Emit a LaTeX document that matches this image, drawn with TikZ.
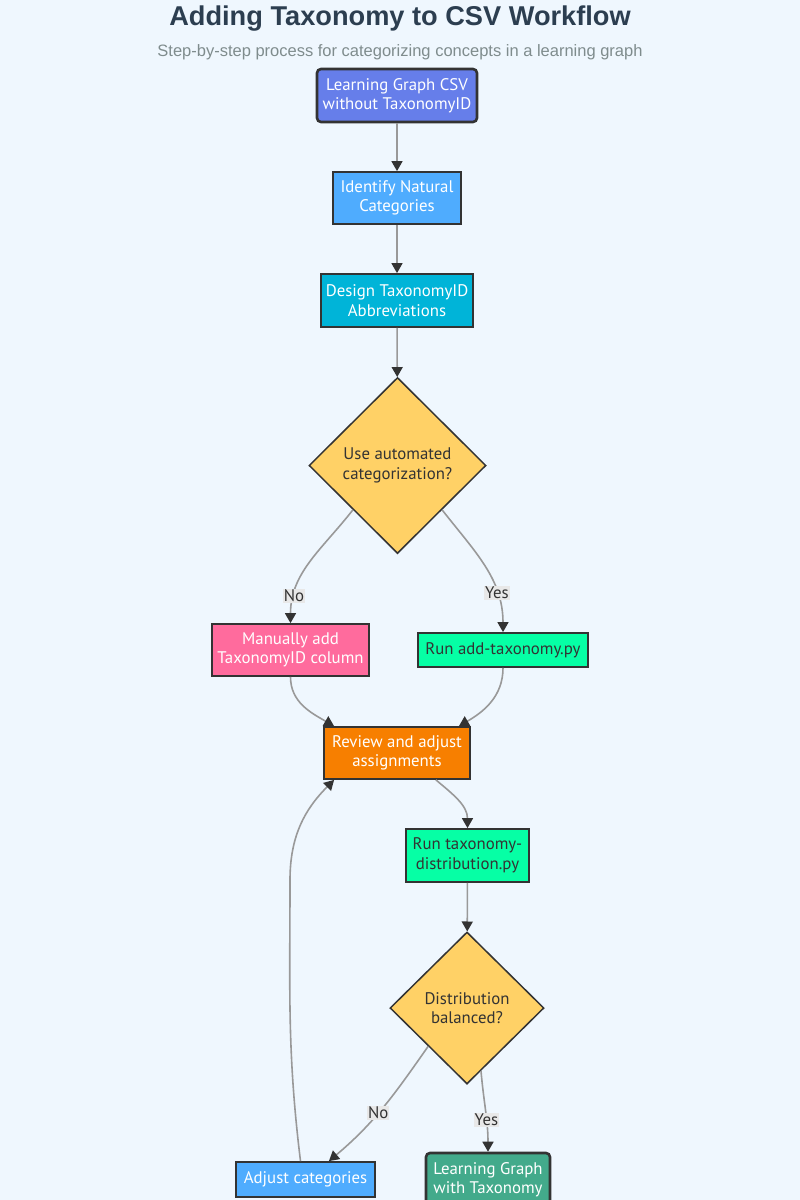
\documentclass[tikz,border=0pt]{standalone}
\usepackage{fontspec}
\setmainfont{PT Sans}
\newfontfamily\titlefont{Liberation Sans}
\usetikzlibrary{shapes.geometric,arrows.meta,calc}

\definecolor{bgcol}{HTML}{EFF7FE}
\definecolor{titlecol}{HTML}{2C3E50}
\definecolor{subcol}{HTML}{7F8C8D}
\definecolor{edgecol}{HTML}{999999}
\definecolor{bordcol}{HTML}{333333}
\definecolor{startcol}{HTML}{667EEA}
\definecolor{bluecol}{HTML}{4FACFE}
\definecolor{cyancol}{HTML}{00B4D8}
\definecolor{pinkcol}{HTML}{FF6B9D}
\definecolor{mintcol}{HTML}{06FFA5}
\definecolor{orangecol}{HTML}{F77F00}
\definecolor{decidecol}{HTML}{FFD166}
\definecolor{endcol}{HTML}{43AA8B}

\tikzset{
  box/.style={draw=bordcol, line width=1.8pt, rectangle, align=center, inner sep=0pt,
    font=\fontsize{16.8}{19.5}\selectfont},
  whitebox/.style={box, text=white},
  darkbox/.style={box, text=bordcol},
  roundbox/.style={whitebox, rounded corners=4pt, line width=2.6pt},
  decide/.style={draw=bordcol, line width=1.5pt, diamond, fill=decidecol, inner sep=0pt,
    align=center, text=bordcol, font=\fontsize{16.8}{19.5}\selectfont},
  flow/.style={draw=edgecol, line width=1.6pt,
    -{Triangle[length=10pt,width=11pt,color=bordcol]}},
  lbl/.style={fill=black!9, text=bordcol, inner sep=1pt, font=\fontsize{16.8}{18}\selectfont}
}

\begin{document}
\begin{tikzpicture}[x=1pt,y=1pt]
  \useasboundingbox[fill=bgcol] (0,0) rectangle (800,-1200);

  % Heading
  \node[text=titlecol, font=\titlefont\bfseries\fontsize{27.2}{32}\selectfont] (title) at (400,-19) {Adding Taxonomy to CSV Workflow};
  \node[text=subcol, font=\titlefont\fontsize{16.5}{19}\selectfont] (subtitle) at (400,-52) {Step-by-step process for categorizing concepts in a learning graph};

  % Main steps
  \node[roundbox, fill=startcol, minimum width=160pt, minimum height=53pt] (csv) at (397,-95.5) {Learning Graph CSV\\without TaxonomyID};
  \node[whitebox, fill=bluecol, minimum width=128pt, minimum height=52pt] (identify) at (397,-198) {Identify Natural\\Categories};
  \node[whitebox, fill=cyancol, minimum width=152pt, minimum height=53pt] (design) at (397,-300.5) {Design TaxonomyID\\Abbreviations};
  \node[decide, minimum width=177pt, minimum height=176pt] (auto) at (397.5,-465.5) {Use automated\\categorization?};

  % Two ways to categorize
  \node[whitebox, fill=pinkcol, minimum width=157pt, minimum height=52pt] (manual) at (290.5,-650) {Manually add\\TaxonomyID column};
  \node[darkbox, fill=mintcol, minimum width=170pt, minimum height=34pt] (script) at (503,-650) {Run add-taxonomy.py};

  % Review loop
  \node[whitebox, fill=orangecol, minimum width=146pt, minimum height=52pt] (review) at (397,-753) {Review and adjust\\assignments};
  \node[darkbox, fill=mintcol, minimum width=123pt, minimum height=53pt] (distrib) at (467.5,-855.5) {Run taxonomy-\\distribution.py};
  \node[decide, minimum width=154pt, minimum height=152pt] (balanced) at (467,-1008) {Distribution\\balanced?};
  \node[whitebox, fill=bluecol, minimum width=139pt, minimum height=35pt] (adjust) at (305.5,-1179.5) {Adjust categories};
  \node[roundbox, fill=endcol, minimum width=124pt, minimum height=53pt] (result) at (488,-1179.5) {Learning Graph\\with Taxonomy};

  % Connections
  \draw[flow] (csv) -- (identify);
  \draw[flow] (identify) -- (design);
  \draw[flow] (design) -- (auto);
  \draw[flow] (auto.south west) to[out=-128,in=90] node[lbl, pos=0.8] {No} (manual.north);
  \draw[flow] (auto.south east) to[out=-52,in=90] node[lbl, pos=0.72] {Yes} (script.north);
  \draw[flow] (manual.south) to[out=-90,in=150] ([xshift=11pt]review.north west);
  \draw[flow] (script.south) to[out=-90,in=30] ([xshift=-12pt]review.north east);
  \draw[flow] ([xshift=-35pt]review.south east) to[out=-40,in=90] (distrib.north);
  \draw[flow] (distrib) -- (balanced);
  \draw[flow] (balanced.south west) to[out=-125,in=40] node[lbl, pos=0.55] {No} ([xshift=-47pt]adjust.north east);
  \draw[flow] ($(balanced.south)!0.18!(balanced.east)$) to[out=-85,in=90] node[lbl, pos=0.62] {Yes} (result.north);
  \draw[flow] ([xshift=-5pt]adjust.north) to[out=97,in=-90] (290,-880) to[out=90,in=-135] ([xshift=11pt]review.south west);
\end{tikzpicture}
\end{document}
